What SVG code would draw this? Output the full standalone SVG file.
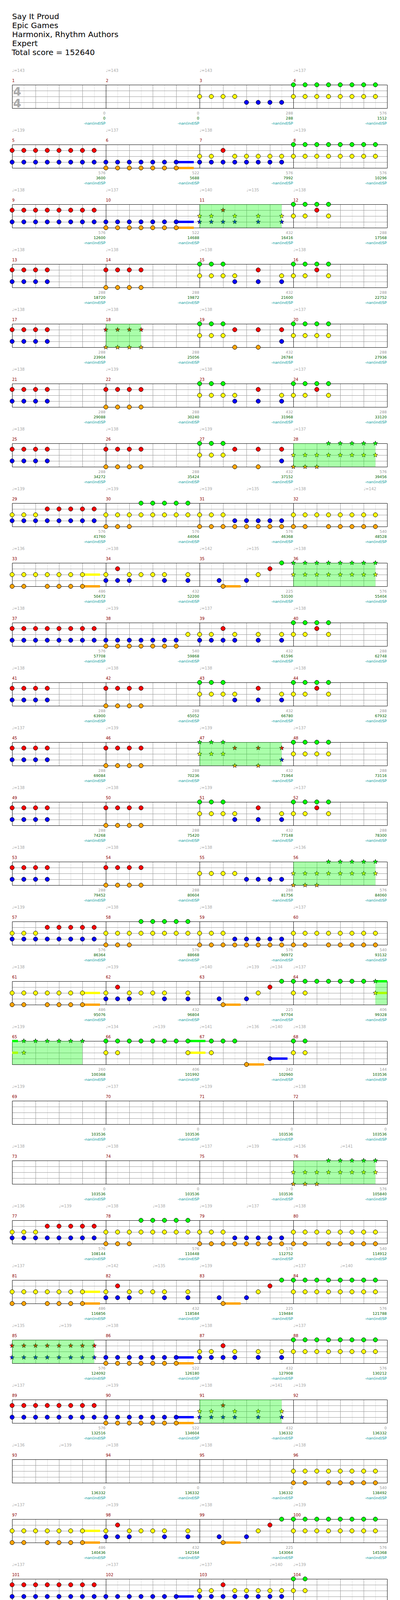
<svg xmlns="http://www.w3.org/2000/svg" width="1024" height="4195" viewBox="0 0 1024 4195">
<style>
text{font-family:"DejaVu Sans","Noto Sans",sans-serif}
.h{font-size:20px;fill:#000}
.t{font-size:10px;fill:#aaa}
.m{font-size:10px;fill:#8b0000}
.c,.s,.n{font-size:9.5px;text-anchor:end}
.c{fill:#999}.s{fill:#006400}.n{fill:#009999}
.ts{font-size:30px;font-weight:bold;fill:#aaa;text-anchor:middle}
.nt{stroke:#000;stroke-width:1}
.st{stroke:#000;stroke-width:.8}
.sp{fill:#0f0;fill-opacity:.333}
.lg{stroke:#ddd;fill:none}
.gy{stroke:#999;fill:none}
.bk{stroke:#000;fill:none}
</style>
<defs>
<g id="staff" transform="translate(.5 .5)">
<path class="lg" d="M61 0v60M121 0v60M181 0v60M241 0v60M301 0v60M361 0v60M421 0v60M481 0v60M541 0v60M601 0v60M661 0v60M721 0v60M781 0v60M841 0v60M901 0v60M961 0v60"/>
<path class="gy" d="M91 0v60M151 0v60M211 0v60M331 0v60M391 0v60M451 0v60M571 0v60M631 0v60M691 0v60M811 0v60M871 0v60M931 0v60M31 15H991M31 30H991M31 45H991"/>
<path class="bk" d="M31 0H991V60H31ZM271 0v60M511 0v60M751 0v60"/>
</g>
<circle id="g" class="nt" r="5.5" fill="#0f0"/>
<circle id="r" class="nt" cy="15" r="5.5" fill="#f00"/>
<circle id="y" class="nt" cy="30" r="5.5" fill="#ff0"/>
<circle id="b" class="nt" cy="45" r="5.5" fill="#00f"/>
<circle id="o" class="nt" cy="60" r="5.5" fill="#ffa500"/>
<polygon id="G" class="st" fill="#0f0" points="0,-6.2 1.5,-2 5.9,-1.9 2.4,0.8 3.6,5 0,2.5 -3.6,5 -2.4,0.8 -5.9,-1.9 -1.5,-2"/>
<polygon id="R" class="st" fill="#f00" transform="translate(0 15)" points="0,-6.2 1.5,-2 5.9,-1.9 2.4,0.8 3.6,5 0,2.5 -3.6,5 -2.4,0.8 -5.9,-1.9 -1.5,-2"/>
<polygon id="Y" class="st" fill="#ff0" transform="translate(0 30)" points="0,-6.2 1.5,-2 5.9,-1.9 2.4,0.8 3.6,5 0,2.5 -3.6,5 -2.4,0.8 -5.9,-1.9 -1.5,-2"/>
<polygon id="B" class="st" fill="#00f" transform="translate(0 45)" points="0,-6.2 1.5,-2 5.9,-1.9 2.4,0.8 3.6,5 0,2.5 -3.6,5 -2.4,0.8 -5.9,-1.9 -1.5,-2"/>
<polygon id="O" class="st" fill="#ffa500" transform="translate(0 60)" points="0,-6.2 1.5,-2 5.9,-1.9 2.4,0.8 3.6,5 0,2.5 -3.6,5 -2.4,0.8 -5.9,-1.9 -1.5,-2"/>
<g id="g4"><use href="#g"/><use href="#g" x="30"/><use href="#g" x="60"/><use href="#g" x="90"/></g>
<g id="r4"><use href="#r"/><use href="#r" x="30"/><use href="#r" x="60"/><use href="#r" x="90"/></g>
<g id="y4"><use href="#y"/><use href="#y" x="30"/><use href="#y" x="60"/><use href="#y" x="90"/></g>
<g id="b4"><use href="#b"/><use href="#b" x="30"/><use href="#b" x="60"/><use href="#b" x="90"/></g>
<g id="o4"><use href="#o"/><use href="#o" x="30"/><use href="#o" x="60"/><use href="#o" x="90"/></g>
<g id="g8"><use href="#g4"/><use href="#g4" x="120"/></g>
<g id="r8"><use href="#r4"/><use href="#r4" x="120"/></g>
<g id="y8"><use href="#y4"/><use href="#y4" x="120"/></g>
<g id="b8"><use href="#b4"/><use href="#b4" x="120"/></g>
<g id="o8"><use href="#o4"/><use href="#o4" x="120"/></g>
<g id="g7"><use href="#g4"/><use href="#g" x="120"/><use href="#g" x="150"/><use href="#g" x="180"/></g>
<g id="y7"><use href="#y4"/><use href="#y" x="120"/><use href="#y" x="150"/><use href="#y" x="180"/></g>
<g id="b7"><use href="#b4"/><use href="#b" x="120"/><use href="#b" x="150"/><use href="#b" x="180"/></g>
<g id="o7"><use href="#o4"/><use href="#o" x="120"/><use href="#o" x="150"/><use href="#o" x="180"/></g>
<g id="G4"><use href="#G"/><use href="#G" x="30"/><use href="#G" x="60"/><use href="#G" x="90"/></g>
<g id="R4"><use href="#R"/><use href="#R" x="30"/><use href="#R" x="60"/><use href="#R" x="90"/></g>
<g id="Y4"><use href="#Y"/><use href="#Y" x="30"/><use href="#Y" x="60"/><use href="#Y" x="90"/></g>
<g id="B4"><use href="#B"/><use href="#B" x="30"/><use href="#B" x="60"/><use href="#B" x="90"/></g>
<g id="O4"><use href="#O"/><use href="#O" x="30"/><use href="#O" x="60"/><use href="#O" x="90"/></g>
<g id="G8"><use href="#G4"/><use href="#G4" x="120"/></g>
<g id="R8"><use href="#R4"/><use href="#R4" x="120"/></g>
<g id="Y8"><use href="#Y4"/><use href="#Y4" x="120"/></g>
<g id="B8"><use href="#B4"/><use href="#B4" x="120"/></g>
<g id="pA"><use href="#y4"/><use href="#b4" x="120"/></g>
<g id="pRB8"><use href="#r8"/><use href="#b8"/></g>
<g id="pBO"><rect x="180" y="42" width="45" height="6" fill="#00f"/><rect x="180" y="57" width="45" height="6" fill="#ffa500"/><use href="#b7"/><use href="#o7"/></g>
<g id="p7"><use href="#y"/><use href="#y" x="30"/><use href="#y4" x="90"/><use href="#y" x="210"/><use href="#r" x="60"/><use href="#b8"/></g>
<g id="pGY8"><use href="#g8"/><use href="#y8"/></g>
<g id="p12"><use href="#g4"/><use href="#r" x="60"/><use href="#y"/><use href="#y" x="30"/><use href="#y" x="90"/></g>
<g id="pRB4"><use href="#r4"/><use href="#b4"/></g>
<g id="pRO4"><use href="#r4"/><use href="#o4"/></g>
<g id="p15"><use href="#g"/><use href="#g" x="30"/><use href="#g" x="60"/><use href="#y4"/><use href="#y" x="210"/><use href="#b" x="90"/><use href="#b" x="150"/><use href="#b" x="210"/><use href="#r" x="150"/></g>
<g id="p19"><use href="#g"/><use href="#g" x="30"/><use href="#g" x="60"/><use href="#y"/><use href="#y" x="30"/><use href="#y" x="60"/><use href="#r" x="90"/><use href="#r" x="150"/><use href="#r" x="210"/><use href="#o" x="90"/><use href="#o" x="150"/><use href="#b" x="210"/></g>
<g id="pGY4"><use href="#g4"/><use href="#y4"/></g>
<g id="p29"><use href="#y"/><use href="#y" x="30"/><use href="#y" x="60"/><use href="#r4" x="90"/><use href="#r" x="210"/><use href="#b8"/></g>
<g id="p30"><use href="#g4" x="90"/><use href="#g" x="210"/><use href="#y8"/><use href="#o"/><use href="#o" x="30"/><use href="#o" x="60"/></g>
<g id="p31"><use href="#y"/><use href="#y" x="30"/><use href="#y" x="60"/><use href="#b4" x="90"/><use href="#b" x="210"/><use href="#o8"/></g>
<g id="p32"><use href="#y8"/><use href="#o"/><use href="#o" x="30"/><use href="#o4" x="90"/><use href="#o" x="210"/></g>
<g id="p33"><rect x="180" y="27" width="45" height="6" fill="#ff0"/><rect x="180" y="57" width="45" height="6" fill="#ffa500"/><use href="#y7"/><use href="#o"/><use href="#o" x="30"/><use href="#o4" x="90"/></g>
<g id="p34"><use href="#r" x="30"/><use href="#y"/><use href="#y4" x="60"/><use href="#y" x="210"/><use href="#b"/><use href="#b" x="30"/><use href="#b" x="60"/><use href="#b" x="150"/><use href="#b" x="210"/></g>
<g id="p35"><rect x="60" y="57" width="45" height="6" fill="#ffa500"/><use href="#b" x="50"/><use href="#o" x="60"/><use href="#b" x="120"/><use href="#y" x="150"/><use href="#r" x="180"/><use href="#g" x="210"/></g>
<g id="p38"><use href="#b7"/><use href="#o7"/><use href="#y" x="210"/></g>
<g id="p39"><use href="#y"/><use href="#y" x="30"/><use href="#y" x="90"/><use href="#y" x="150"/><use href="#y" x="210"/><use href="#r" x="60"/><use href="#b"/><use href="#b" x="30"/><use href="#b" x="60"/><use href="#b" x="90"/><use href="#b" x="150"/><use href="#b" x="210"/></g>
<g id="s28"><use href="#G4" x="90"/><use href="#G" x="210"/><use href="#Y8"/><use href="#O"/><use href="#O" x="30"/><use href="#O" x="60"/><rect class="sp" width="210" height="60"/></g>
<g id="s36"><use href="#G8"/><use href="#Y8"/><rect class="sp" width="210" height="60"/></g>
<g id="s11"><use href="#R" x="60"/><use href="#Y"/><use href="#Y" x="30"/><use href="#Y" x="90"/><use href="#Y" x="150"/><use href="#Y" x="210"/><use href="#B"/><use href="#B" x="30"/><use href="#B" x="60"/><use href="#B" x="90"/><use href="#B" x="150"/><use href="#B" x="210"/><rect class="sp" width="210" height="60"/></g>
<g id="s18"><use href="#R4"/><use href="#O4"/><rect class="sp" width="90" height="60"/></g>
<g id="s47"><use href="#G"/><use href="#G" x="30"/><use href="#G" x="60"/><use href="#Y"/><use href="#Y" x="30"/><use href="#Y" x="60"/><use href="#R" x="90"/><use href="#R" x="150"/><use href="#R" x="210"/><use href="#O" x="90"/><use href="#O" x="150"/><use href="#B" x="210"/><rect class="sp" width="210" height="60"/></g>
<g id="s85"><use href="#R8"/><use href="#B8"/><rect class="sp" width="210" height="60"/></g>
<g id="p64"><rect x="210" y="-3" width="30" height="6" fill="#0f0"/><rect x="210" y="27" width="30" height="6" fill="#ff0"/><use href="#g7"/><use href="#y"/><use href="#y" x="30"/><use href="#G" x="210"/><use href="#Y" x="210"/><rect class="sp" x="210" width="30" height="60"/></g>
<g id="p65"><rect y="-3" width="15" height="6" fill="#0f0"/><rect y="27" width="15" height="6" fill="#ff0"/><use href="#G4" x="30"/><use href="#G" x="150"/><use href="#G" x="180"/><use href="#Y" x="30"/><rect class="sp" width="180" height="60"/></g>
<g id="p66"><rect x="210" y="-3" width="45" height="6" fill="#0f0"/><rect x="210" y="27" width="45" height="6" fill="#ff0"/><use href="#g8"/><use href="#y"/><use href="#y" x="30"/><use href="#y" x="210"/></g>
<g id="p67"><rect x="120" y="57" width="45" height="6" fill="#ffa500"/><rect x="180" y="42" width="45" height="6" fill="#00f"/><use href="#g" x="30"/><use href="#g" x="60"/><use href="#g" x="90"/><use href="#y" x="30"/><use href="#o" x="120"/><use href="#b" x="180"/></g>
<g id="p68"><use href="#g"/><use href="#g" x="30"/><use href="#y"/><use href="#y" x="30"/></g>
</defs>
<rect width="1024" height="4195" fill="#fff"/>
<g id="header">
<text class="h" x="31" y="49">Say It Proud</text>
<text class="h" x="31" y="72">Epic Games</text>
<text class="h" x="31" y="95">Harmonix, Rhythm Authors</text>
<text class="h" x="31" y="118">Expert</text>
<text class="h" x="30" y="141">Total score = 152640</text>
</g>

<g id="row1" transform="translate(0 217)">
<use href="#staff"/>
<text class="ts" x="44" y="28">4</text><text class="ts" x="44" y="58">4</text>
<use href="#pA" x="511"/><use href="#pGY8" x="751"/>
<text class="t" x="31" y="-33">♩=143</text><text class="t" x="271" y="-33">♩=143</text><text class="t" x="511" y="-33">♩=143</text><text class="t" x="751" y="-33">♩=137</text>
<text class="m" x="31" y="-7">1</text><text class="m" x="271" y="-7">2</text><text class="m" x="511" y="-7">3</text><text class="m" x="751" y="-7">4</text>
<text class="c" x="270" y="76">0</text><text class="s" x="270" y="89">0</text><text class="n" x="270" y="102">-nan(ind)SP</text>
<text class="c" x="510" y="76">0</text><text class="s" x="510" y="89">0</text><text class="n" x="510" y="102">-nan(ind)SP</text>
<text class="c" x="750" y="76">288</text><text class="s" x="750" y="89">288</text><text class="n" x="750" y="102">-nan(ind)SP</text>
<text class="c" x="990" y="76">576</text><text class="s" x="990" y="89">1512</text><text class="n" x="990" y="102">-nan(ind)SP</text>
</g>

<g id="row2" transform="translate(0 370)">
<use href="#staff"/>
<use href="#pRB8" x="31"/><use href="#pBO" x="271"/><use href="#p7" x="511"/><use href="#pGY8" x="751"/>
<text class="t" x="31" y="-33">♩=139</text><text class="t" x="271" y="-33">♩=137</text><text class="t" x="511" y="-33">♩=138</text><text class="t" x="751" y="-33">♩=139</text>
<text class="m" x="31" y="-7">5</text><text class="m" x="271" y="-7">6</text><text class="m" x="511" y="-7">7</text><text class="m" x="751" y="-7">8</text>
<text class="c" x="270" y="76">576</text><text class="s" x="270" y="89">3600</text><text class="n" x="270" y="102">-nan(ind)SP</text>
<text class="c" x="510" y="76">522</text><text class="s" x="510" y="89">5688</text><text class="n" x="510" y="102">-nan(ind)SP</text>
<text class="c" x="750" y="76">576</text><text class="s" x="750" y="89">7992</text><text class="n" x="750" y="102">-nan(ind)SP</text>
<text class="c" x="990" y="76">576</text><text class="s" x="990" y="89">10296</text><text class="n" x="990" y="102">-nan(ind)SP</text>
</g>

<g id="row3" transform="translate(0 523)">
<use href="#staff"/>
<use href="#pRB8" x="31"/><use href="#pBO" x="271"/><use href="#s11" x="511"/><use href="#p12" x="751"/>
<text class="t" x="31" y="-33">♩=138</text><text class="t" x="271" y="-33">♩=137</text><text class="t" x="511" y="-33">♩=140</text><text class="t" x="631" y="-33">♩=135</text><text class="t" x="751" y="-33">♩=138</text>
<text class="m" x="31" y="-7">9</text><text class="m" x="271" y="-7">10</text><text class="m" x="511" y="-7">11</text><text class="m" x="751" y="-7">12</text>
<text class="c" x="270" y="76">576</text><text class="s" x="270" y="89">12600</text><text class="n" x="270" y="102">-nan(ind)SP</text>
<text class="c" x="510" y="76">522</text><text class="s" x="510" y="89">14688</text><text class="n" x="510" y="102">-nan(ind)SP</text>
<text class="c" x="750" y="76">432</text><text class="s" x="750" y="89">16416</text><text class="n" x="750" y="102">-nan(ind)SP</text>
<text class="c" x="990" y="76">288</text><text class="s" x="990" y="89">17568</text><text class="n" x="990" y="102">-nan(ind)SP</text>
</g>

<g id="row4" transform="translate(0 676)">
<use href="#staff"/>
<use href="#pRB4" x="31"/><use href="#pRO4" x="271"/><use href="#p15" x="511"/><use href="#p12" x="751"/>
<text class="t" x="31" y="-33">♩=138</text><text class="t" x="271" y="-33">♩=138</text><text class="t" x="511" y="-33">♩=138</text><text class="t" x="751" y="-33">♩=138</text>
<text class="m" x="31" y="-7">13</text><text class="m" x="271" y="-7">14</text><text class="m" x="511" y="-7">15</text><text class="m" x="751" y="-7">16</text>
<text class="c" x="270" y="76">288</text><text class="s" x="270" y="89">18720</text><text class="n" x="270" y="102">-nan(ind)SP</text>
<text class="c" x="510" y="76">288</text><text class="s" x="510" y="89">19872</text><text class="n" x="510" y="102">-nan(ind)SP</text>
<text class="c" x="750" y="76">432</text><text class="s" x="750" y="89">21600</text><text class="n" x="750" y="102">-nan(ind)SP</text>
<text class="c" x="990" y="76">288</text><text class="s" x="990" y="89">22752</text><text class="n" x="990" y="102">-nan(ind)SP</text>
</g>

<g id="row5" transform="translate(0 829)">
<use href="#staff"/>
<use href="#pRB4" x="31"/><use href="#s18" x="271"/><use href="#p19" x="511"/><use href="#pGY4" x="751"/>
<text class="t" x="31" y="-33">♩=138</text><text class="t" x="271" y="-33">♩=138</text><text class="t" x="511" y="-33">♩=138</text><text class="t" x="751" y="-33">♩=137</text>
<text class="m" x="31" y="-7">17</text><text class="m" x="271" y="-7">18</text><text class="m" x="511" y="-7">19</text><text class="m" x="751" y="-7">20</text>
<text class="c" x="270" y="76">288</text><text class="s" x="270" y="89">23904</text><text class="n" x="270" y="102">-nan(ind)SP</text>
<text class="c" x="510" y="76">288</text><text class="s" x="510" y="89">25056</text><text class="n" x="510" y="102">-nan(ind)SP</text>
<text class="c" x="750" y="76">432</text><text class="s" x="750" y="89">26784</text><text class="n" x="750" y="102">-nan(ind)SP</text>
<text class="c" x="990" y="76">288</text><text class="s" x="990" y="89">27936</text><text class="n" x="990" y="102">-nan(ind)SP</text>
</g>

<g id="row6" transform="translate(0 982)">
<use href="#staff"/>
<use href="#pRB4" x="31"/><use href="#pRO4" x="271"/><use href="#p15" x="511"/><use href="#p12" x="751"/>
<text class="t" x="31" y="-33">♩=138</text><text class="t" x="271" y="-33">♩=139</text><text class="t" x="511" y="-33">♩=138</text><text class="t" x="751" y="-33">♩=137</text>
<text class="m" x="31" y="-7">21</text><text class="m" x="271" y="-7">22</text><text class="m" x="511" y="-7">23</text><text class="m" x="751" y="-7">24</text>
<text class="c" x="270" y="76">288</text><text class="s" x="270" y="89">29088</text><text class="n" x="270" y="102">-nan(ind)SP</text>
<text class="c" x="510" y="76">288</text><text class="s" x="510" y="89">30240</text><text class="n" x="510" y="102">-nan(ind)SP</text>
<text class="c" x="750" y="76">432</text><text class="s" x="750" y="89">31968</text><text class="n" x="750" y="102">-nan(ind)SP</text>
<text class="c" x="990" y="76">288</text><text class="s" x="990" y="89">33120</text><text class="n" x="990" y="102">-nan(ind)SP</text>
</g>

<g id="row7" transform="translate(0 1135)">
<use href="#staff"/>
<use href="#pRB4" x="31"/><use href="#pRO4" x="271"/><use href="#p19" x="511"/><use href="#s28" x="751"/>
<text class="t" x="31" y="-33">♩=138</text><text class="t" x="271" y="-33">♩=138</text><text class="t" x="511" y="-33">♩=139</text><text class="t" x="751" y="-33">♩=137</text>
<text class="m" x="31" y="-7">25</text><text class="m" x="271" y="-7">26</text><text class="m" x="511" y="-7">27</text><text class="m" x="751" y="-7">28</text>
<text class="c" x="270" y="76">288</text><text class="s" x="270" y="89">34272</text><text class="n" x="270" y="102">-nan(ind)SP</text>
<text class="c" x="510" y="76">288</text><text class="s" x="510" y="89">35424</text><text class="n" x="510" y="102">-nan(ind)SP</text>
<text class="c" x="750" y="76">432</text><text class="s" x="750" y="89">37152</text><text class="n" x="750" y="102">-nan(ind)SP</text>
<text class="c" x="990" y="76">576</text><text class="s" x="990" y="89">39456</text><text class="n" x="990" y="102">-nan(ind)SP</text>
</g>

<g id="row8" transform="translate(0 1288)">
<use href="#staff"/>
<use href="#p29" x="31"/><use href="#p30" x="271"/><use href="#p31" x="511"/><use href="#p32" x="751"/>
<text class="t" x="31" y="-33">♩=139</text><text class="t" x="271" y="-33">♩=139</text><text class="t" x="511" y="-33">♩=139</text><text class="t" x="631" y="-33">♩=135</text><text class="t" x="751" y="-33">♩=138</text><text class="t" x="931" y="-33">♩=142</text>
<text class="m" x="31" y="-7">29</text><text class="m" x="271" y="-7">30</text><text class="m" x="511" y="-7">31</text><text class="m" x="751" y="-7">32</text>
<text class="c" x="270" y="76">576</text><text class="s" x="270" y="89">41760</text><text class="n" x="270" y="102">-nan(ind)SP</text>
<text class="c" x="510" y="76">576</text><text class="s" x="510" y="89">44064</text><text class="n" x="510" y="102">-nan(ind)SP</text>
<text class="c" x="750" y="76">576</text><text class="s" x="750" y="89">46368</text><text class="n" x="750" y="102">-nan(ind)SP</text>
<text class="c" x="990" y="76">540</text><text class="s" x="990" y="89">48528</text><text class="n" x="990" y="102">-nan(ind)SP</text>
</g>

<g id="row9" transform="translate(0 1441)">
<use href="#staff"/>
<use href="#p33" x="31"/><use href="#p34" x="271"/><use href="#p35" x="511"/><use href="#s36" x="751"/>
<text class="t" x="31" y="-33">♩=136</text><text class="t" x="271" y="-33">♩=138</text><text class="t" x="511" y="-33">♩=142</text><text class="t" x="631" y="-33">♩=135</text><text class="t" x="751" y="-33">♩=138</text>
<text class="m" x="31" y="-7">33</text><text class="m" x="271" y="-7">34</text><text class="m" x="511" y="-7">35</text><text class="m" x="751" y="-7">36</text>
<text class="c" x="270" y="76">486</text><text class="s" x="270" y="89">50472</text><text class="n" x="270" y="102">-nan(ind)SP</text>
<text class="c" x="510" y="76">432</text><text class="s" x="510" y="89">52200</text><text class="n" x="510" y="102">-nan(ind)SP</text>
<text class="c" x="750" y="76">225</text><text class="s" x="750" y="89">53100</text><text class="n" x="750" y="102">-nan(ind)SP</text>
<text class="c" x="990" y="76">576</text><text class="s" x="990" y="89">55404</text><text class="n" x="990" y="102">-nan(ind)SP</text>
</g>

<g id="row10" transform="translate(0 1594)">
<use href="#staff"/>
<use href="#pRB8" x="31"/><use href="#p38" x="271"/><use href="#p39" x="511"/><use href="#p12" x="751"/>
<text class="t" x="31" y="-33">♩=138</text><text class="t" x="271" y="-33">♩=139</text><text class="t" x="511" y="-33">♩=137</text><text class="t" x="751" y="-33">♩=138</text>
<text class="m" x="31" y="-7">37</text><text class="m" x="271" y="-7">38</text><text class="m" x="511" y="-7">39</text><text class="m" x="751" y="-7">40</text>
<text class="c" x="270" y="76">576</text><text class="s" x="270" y="89">57708</text><text class="n" x="270" y="102">-nan(ind)SP</text>
<text class="c" x="510" y="76">540</text><text class="s" x="510" y="89">59868</text><text class="n" x="510" y="102">-nan(ind)SP</text>
<text class="c" x="750" y="76">432</text><text class="s" x="750" y="89">61596</text><text class="n" x="750" y="102">-nan(ind)SP</text>
<text class="c" x="990" y="76">288</text><text class="s" x="990" y="89">62748</text><text class="n" x="990" y="102">-nan(ind)SP</text>
</g>

<g id="row11" transform="translate(0 1747)">
<use href="#staff"/>
<use href="#pRB4" x="31"/><use href="#pRO4" x="271"/><use href="#p15" x="511"/><use href="#p12" x="751"/>
<text class="t" x="31" y="-33">♩=138</text><text class="t" x="271" y="-33">♩=138</text><text class="t" x="511" y="-33">♩=138</text><text class="t" x="751" y="-33">♩=138</text>
<text class="m" x="31" y="-7">41</text><text class="m" x="271" y="-7">42</text><text class="m" x="511" y="-7">43</text><text class="m" x="751" y="-7">44</text>
<text class="c" x="270" y="76">288</text><text class="s" x="270" y="89">63900</text><text class="n" x="270" y="102">-nan(ind)SP</text>
<text class="c" x="510" y="76">288</text><text class="s" x="510" y="89">65052</text><text class="n" x="510" y="102">-nan(ind)SP</text>
<text class="c" x="750" y="76">432</text><text class="s" x="750" y="89">66780</text><text class="n" x="750" y="102">-nan(ind)SP</text>
<text class="c" x="990" y="76">288</text><text class="s" x="990" y="89">67932</text><text class="n" x="990" y="102">-nan(ind)SP</text>
</g>

<g id="row12" transform="translate(0 1900)">
<use href="#staff"/>
<use href="#pRB4" x="31"/><use href="#pRO4" x="271"/><use href="#s47" x="511"/><use href="#pGY4" x="751"/>
<text class="t" x="31" y="-33">♩=137</text><text class="t" x="271" y="-33">♩=139</text><text class="t" x="511" y="-33">♩=139</text><text class="t" x="751" y="-33">♩=137</text>
<text class="m" x="31" y="-7">45</text><text class="m" x="271" y="-7">46</text><text class="m" x="511" y="-7">47</text><text class="m" x="751" y="-7">48</text>
<text class="c" x="270" y="76">288</text><text class="s" x="270" y="89">69084</text><text class="n" x="270" y="102">-nan(ind)SP</text>
<text class="c" x="510" y="76">288</text><text class="s" x="510" y="89">70236</text><text class="n" x="510" y="102">-nan(ind)SP</text>
<text class="c" x="750" y="76">432</text><text class="s" x="750" y="89">71964</text><text class="n" x="750" y="102">-nan(ind)SP</text>
<text class="c" x="990" y="76">288</text><text class="s" x="990" y="89">73116</text><text class="n" x="990" y="102">-nan(ind)SP</text>
</g>

<g id="row13" transform="translate(0 2053)">
<use href="#staff"/>
<use href="#pRB4" x="31"/><use href="#pRO4" x="271"/><use href="#p15" x="511"/><use href="#p12" x="751"/>
<text class="t" x="31" y="-33">♩=138</text><text class="t" x="271" y="-33">♩=138</text><text class="t" x="511" y="-33">♩=139</text><text class="t" x="751" y="-33">♩=137</text>
<text class="m" x="31" y="-7">49</text><text class="m" x="271" y="-7">50</text><text class="m" x="511" y="-7">51</text><text class="m" x="751" y="-7">52</text>
<text class="c" x="270" y="76">288</text><text class="s" x="270" y="89">74268</text><text class="n" x="270" y="102">-nan(ind)SP</text>
<text class="c" x="510" y="76">288</text><text class="s" x="510" y="89">75420</text><text class="n" x="510" y="102">-nan(ind)SP</text>
<text class="c" x="750" y="76">432</text><text class="s" x="750" y="89">77148</text><text class="n" x="750" y="102">-nan(ind)SP</text>
<text class="c" x="990" y="76">288</text><text class="s" x="990" y="89">78300</text><text class="n" x="990" y="102">-nan(ind)SP</text>
</g>

<g id="row14" transform="translate(0 2206)">
<use href="#staff"/>
<use href="#pRB4" x="31"/><use href="#pRO4" x="271"/><use href="#pA" x="511"/><use href="#s28" x="751"/>
<text class="t" x="31" y="-33">♩=138</text><text class="t" x="271" y="-33">♩=138</text><text class="t" x="511" y="-33">♩=138</text><text class="t" x="751" y="-33">♩=136</text>
<text class="m" x="31" y="-7">53</text><text class="m" x="271" y="-7">54</text><text class="m" x="511" y="-7">55</text><text class="m" x="751" y="-7">56</text>
<text class="c" x="270" y="76">288</text><text class="s" x="270" y="89">79452</text><text class="n" x="270" y="102">-nan(ind)SP</text>
<text class="c" x="510" y="76">288</text><text class="s" x="510" y="89">80604</text><text class="n" x="510" y="102">-nan(ind)SP</text>
<text class="c" x="750" y="76">288</text><text class="s" x="750" y="89">81756</text><text class="n" x="750" y="102">-nan(ind)SP</text>
<text class="c" x="990" y="76">576</text><text class="s" x="990" y="89">84060</text><text class="n" x="990" y="102">-nan(ind)SP</text>
</g>

<g id="row15" transform="translate(0 2359)">
<use href="#staff"/>
<use href="#p29" x="31"/><use href="#p30" x="271"/><use href="#p31" x="511"/><use href="#p32" x="751"/>
<text class="t" x="31" y="-33">♩=139</text><text class="t" x="271" y="-33">♩=138</text><text class="t" x="511" y="-33">♩=138</text><text class="t" x="751" y="-33">♩=137</text>
<text class="m" x="31" y="-7">57</text><text class="m" x="271" y="-7">58</text><text class="m" x="511" y="-7">59</text><text class="m" x="751" y="-7">60</text>
<text class="c" x="270" y="76">576</text><text class="s" x="270" y="89">86364</text><text class="n" x="270" y="102">-nan(ind)SP</text>
<text class="c" x="510" y="76">576</text><text class="s" x="510" y="89">88668</text><text class="n" x="510" y="102">-nan(ind)SP</text>
<text class="c" x="750" y="76">576</text><text class="s" x="750" y="89">90972</text><text class="n" x="750" y="102">-nan(ind)SP</text>
<text class="c" x="990" y="76">540</text><text class="s" x="990" y="89">93132</text><text class="n" x="990" y="102">-nan(ind)SP</text>
</g>

<g id="row16" transform="translate(0 2512)">
<use href="#staff"/>
<use href="#p33" x="31"/><use href="#p34" x="271"/><use href="#p35" x="511"/><use href="#p64" x="751"/>
<text class="t" x="31" y="-33">♩=138</text><text class="t" x="271" y="-33">♩=139</text><text class="t" x="511" y="-33">♩=140</text><text class="t" x="631" y="-33">♩=139</text><text class="t" x="691" y="-33">♩=134</text><text class="t" x="751" y="-33">♩=137</text>
<text class="m" x="31" y="-7">61</text><text class="m" x="271" y="-7">62</text><text class="m" x="511" y="-7">63</text><text class="m" x="751" y="-7">64</text>
<text class="c" x="270" y="76">486</text><text class="s" x="270" y="89">95076</text><text class="n" x="270" y="102">-nan(ind)SP</text>
<text class="c" x="510" y="76">432</text><text class="s" x="510" y="89">96804</text><text class="n" x="510" y="102">-nan(ind)SP</text>
<text class="c" x="750" y="76">225</text><text class="s" x="750" y="89">97704</text><text class="n" x="750" y="102">-nan(ind)SP</text>
<text class="c" x="990" y="76">406</text><text class="s" x="990" y="89">99328</text><text class="n" x="990" y="102">-nan(ind)SP</text>
</g>

<g id="row17" transform="translate(0 2665)">
<use href="#staff"/>
<use href="#p65" x="31"/><use href="#p66" x="271"/><use href="#p67" x="511"/><use href="#p68" x="751"/>
<text class="t" x="31" y="-33">♩=139</text><text class="t" x="271" y="-33">♩=134</text><text class="t" x="391" y="-33">♩=139</text><text class="t" x="511" y="-33">♩=141</text><text class="t" x="631" y="-33">♩=136</text><text class="t" x="691" y="-33">♩=140</text><text class="t" x="751" y="-33">♩=138</text>
<text class="m" x="31" y="-7">65</text><text class="m" x="271" y="-7">66</text><text class="m" x="511" y="-7">67</text><text class="m" x="751" y="-7">68</text>
<text class="c" x="270" y="76">260</text><text class="s" x="270" y="89">100368</text><text class="n" x="270" y="102">-nan(ind)SP</text>
<text class="c" x="510" y="76">406</text><text class="s" x="510" y="89">101992</text><text class="n" x="510" y="102">-nan(ind)SP</text>
<text class="c" x="750" y="76">242</text><text class="s" x="750" y="89">102960</text><text class="n" x="750" y="102">-nan(ind)SP</text>
<text class="c" x="990" y="76">144</text><text class="s" x="990" y="89">103536</text><text class="n" x="990" y="102">-nan(ind)SP</text>
</g>

<g id="row18" transform="translate(0 2818)">
<use href="#staff"/>
<text class="t" x="31" y="-33">♩=139</text><text class="t" x="271" y="-33">♩=137</text><text class="t" x="511" y="-33">♩=139</text><text class="t" x="751" y="-33">♩=138</text>
<text class="m" x="31" y="-7">69</text><text class="m" x="271" y="-7">70</text><text class="m" x="511" y="-7">71</text><text class="m" x="751" y="-7">72</text>
<text class="c" x="270" y="76">0</text><text class="s" x="270" y="89">103536</text><text class="n" x="270" y="102">-nan(ind)SP</text>
<text class="c" x="510" y="76">0</text><text class="s" x="510" y="89">103536</text><text class="n" x="510" y="102">-nan(ind)SP</text>
<text class="c" x="750" y="76">0</text><text class="s" x="750" y="89">103536</text><text class="n" x="750" y="102">-nan(ind)SP</text>
<text class="c" x="990" y="76">0</text><text class="s" x="990" y="89">103536</text><text class="n" x="990" y="102">-nan(ind)SP</text>
</g>

<g id="row19" transform="translate(0 2971)">
<use href="#staff"/>
<use href="#s28" x="751"/>
<text class="t" x="31" y="-33">♩=138</text><text class="t" x="271" y="-33">♩=138</text><text class="t" x="511" y="-33">♩=137</text><text class="t" x="631" y="-33">♩=139</text><text class="t" x="751" y="-33">♩=136</text><text class="t" x="871" y="-33">♩=141</text>
<text class="m" x="31" y="-7">73</text><text class="m" x="271" y="-7">74</text><text class="m" x="511" y="-7">75</text><text class="m" x="751" y="-7">76</text>
<text class="c" x="270" y="76">0</text><text class="s" x="270" y="89">103536</text><text class="n" x="270" y="102">-nan(ind)SP</text>
<text class="c" x="510" y="76">0</text><text class="s" x="510" y="89">103536</text><text class="n" x="510" y="102">-nan(ind)SP</text>
<text class="c" x="750" y="76">0</text><text class="s" x="750" y="89">103536</text><text class="n" x="750" y="102">-nan(ind)SP</text>
<text class="c" x="990" y="76">576</text><text class="s" x="990" y="89">105840</text><text class="n" x="990" y="102">-nan(ind)SP</text>
</g>

<g id="row20" transform="translate(0 3124)">
<use href="#staff"/>
<use href="#p29" x="31"/><use href="#p30" x="271"/><use href="#p31" x="511"/><use href="#p32" x="751"/>
<text class="t" x="31" y="-33">♩=136</text><text class="t" x="151" y="-33">♩=139</text><text class="t" x="271" y="-33">♩=138</text><text class="t" x="391" y="-33">♩=138</text><text class="t" x="511" y="-33">♩=139</text><text class="t" x="631" y="-33">♩=137</text><text class="t" x="751" y="-33">♩=138</text>
<text class="m" x="31" y="-7">77</text><text class="m" x="271" y="-7">78</text><text class="m" x="511" y="-7">79</text><text class="m" x="751" y="-7">80</text>
<text class="c" x="270" y="76">576</text><text class="s" x="270" y="89">108144</text><text class="n" x="270" y="102">-nan(ind)SP</text>
<text class="c" x="510" y="76">576</text><text class="s" x="510" y="89">110448</text><text class="n" x="510" y="102">-nan(ind)SP</text>
<text class="c" x="750" y="76">576</text><text class="s" x="750" y="89">112752</text><text class="n" x="750" y="102">-nan(ind)SP</text>
<text class="c" x="990" y="76">540</text><text class="s" x="990" y="89">114912</text><text class="n" x="990" y="102">-nan(ind)SP</text>
</g>

<g id="row21" transform="translate(0 3277)">
<use href="#staff"/>
<use href="#p33" x="31"/><use href="#p34" x="271"/><use href="#p35" x="511"/><use href="#pGY8" x="751"/>
<text class="t" x="31" y="-33">♩=137</text><text class="t" x="271" y="-33">♩=142</text><text class="t" x="391" y="-33">♩=135</text><text class="t" x="511" y="-33">♩=139</text><text class="t" x="751" y="-33">♩=137</text><text class="t" x="871" y="-33">♩=140</text>
<text class="m" x="31" y="-7">81</text><text class="m" x="271" y="-7">82</text><text class="m" x="511" y="-7">83</text><text class="m" x="751" y="-7">84</text>
<text class="c" x="270" y="76">486</text><text class="s" x="270" y="89">116856</text><text class="n" x="270" y="102">-nan(ind)SP</text>
<text class="c" x="510" y="76">432</text><text class="s" x="510" y="89">118584</text><text class="n" x="510" y="102">-nan(ind)SP</text>
<text class="c" x="750" y="76">225</text><text class="s" x="750" y="89">119484</text><text class="n" x="750" y="102">-nan(ind)SP</text>
<text class="c" x="990" y="76">576</text><text class="s" x="990" y="89">121788</text><text class="n" x="990" y="102">-nan(ind)SP</text>
</g>

<g id="row22" transform="translate(0 3430)">
<use href="#staff"/>
<use href="#s85" x="31"/><use href="#pBO" x="271"/><use href="#p39" x="511"/><use href="#pGY8" x="751"/>
<text class="t" x="31" y="-33">♩=135</text><text class="t" x="151" y="-33">♩=139</text><text class="t" x="271" y="-33">♩=138</text><text class="t" x="511" y="-33">♩=138</text><text class="t" x="751" y="-33">♩=137</text>
<text class="m" x="31" y="-7">85</text><text class="m" x="271" y="-7">86</text><text class="m" x="511" y="-7">87</text><text class="m" x="751" y="-7">88</text>
<text class="c" x="270" y="76">576</text><text class="s" x="270" y="89">124092</text><text class="n" x="270" y="102">-nan(ind)SP</text>
<text class="c" x="510" y="76">522</text><text class="s" x="510" y="89">126180</text><text class="n" x="510" y="102">-nan(ind)SP</text>
<text class="c" x="750" y="76">432</text><text class="s" x="750" y="89">127908</text><text class="n" x="750" y="102">-nan(ind)SP</text>
<text class="c" x="990" y="76">576</text><text class="s" x="990" y="89">130212</text><text class="n" x="990" y="102">-nan(ind)SP</text>
</g>

<g id="row23" transform="translate(0 3583)">
<use href="#staff"/>
<use href="#pRB8" x="31"/><use href="#pBO" x="271"/><use href="#s11" x="511"/>
<text class="t" x="31" y="-33">♩=137</text><text class="t" x="271" y="-33">♩=139</text><text class="t" x="511" y="-33">♩=138</text><text class="t" x="691" y="-33">♩=141</text><text class="t" x="751" y="-33">♩=139</text>
<text class="m" x="31" y="-7">89</text><text class="m" x="271" y="-7">90</text><text class="m" x="511" y="-7">91</text><text class="m" x="751" y="-7">92</text>
<text class="c" x="270" y="76">576</text><text class="s" x="270" y="89">132516</text><text class="n" x="270" y="102">-nan(ind)SP</text>
<text class="c" x="510" y="76">522</text><text class="s" x="510" y="89">134604</text><text class="n" x="510" y="102">-nan(ind)SP</text>
<text class="c" x="750" y="76">432</text><text class="s" x="750" y="89">136332</text><text class="n" x="750" y="102">-nan(ind)SP</text>
<text class="c" x="990" y="76">0</text><text class="s" x="990" y="89">136332</text><text class="n" x="990" y="102">-nan(ind)SP</text>
</g>

<g id="row24" transform="translate(0 3736)">
<use href="#staff"/>
<use href="#p32" x="751"/>
<text class="t" x="31" y="-33">♩=136</text><text class="t" x="151" y="-33">♩=139</text><text class="t" x="271" y="-33">♩=138</text><text class="t" x="511" y="-33">♩=138</text><text class="t" x="751" y="-33">♩=138</text>
<text class="m" x="31" y="-7">93</text><text class="m" x="271" y="-7">94</text><text class="m" x="511" y="-7">95</text><text class="m" x="751" y="-7">96</text>
<text class="c" x="270" y="76">0</text><text class="s" x="270" y="89">136332</text><text class="n" x="270" y="102">-nan(ind)SP</text>
<text class="c" x="510" y="76">0</text><text class="s" x="510" y="89">136332</text><text class="n" x="510" y="102">-nan(ind)SP</text>
<text class="c" x="750" y="76">0</text><text class="s" x="750" y="89">136332</text><text class="n" x="750" y="102">-nan(ind)SP</text>
<text class="c" x="990" y="76">540</text><text class="s" x="990" y="89">138492</text><text class="n" x="990" y="102">-nan(ind)SP</text>
</g>

<g id="row25" transform="translate(0 3889)">
<use href="#staff"/>
<use href="#p33" x="31"/><use href="#p34" x="271"/><use href="#p35" x="511"/><use href="#pGY8" x="751"/>
<text class="t" x="31" y="-33">♩=137</text><text class="t" x="271" y="-33">♩=139</text><text class="t" x="511" y="-33">♩=138</text><text class="t" x="751" y="-33">♩=139</text>
<text class="m" x="31" y="-7">97</text><text class="m" x="271" y="-7">98</text><text class="m" x="511" y="-7">99</text><text class="m" x="751" y="-7">100</text>
<text class="c" x="270" y="76">486</text><text class="s" x="270" y="89">140436</text><text class="n" x="270" y="102">-nan(ind)SP</text>
<text class="c" x="510" y="76">432</text><text class="s" x="510" y="89">142164</text><text class="n" x="510" y="102">-nan(ind)SP</text>
<text class="c" x="750" y="76">225</text><text class="s" x="750" y="89">143064</text><text class="n" x="750" y="102">-nan(ind)SP</text>
<text class="c" x="990" y="76">576</text><text class="s" x="990" y="89">145368</text><text class="n" x="990" y="102">-nan(ind)SP</text>
</g>

<g id="row26" transform="translate(0 4042)">
<use href="#staff"/>
<use href="#pRB8" x="31"/><use href="#pBO" x="271"/><use href="#p7" x="511"/><use href="#p68" x="751"/>
<text class="t" x="31" y="-33">♩=137</text><text class="t" x="271" y="-33">♩=137</text><text class="t" x="511" y="-33">♩=137</text><text class="t" x="691" y="-33">♩=140</text><text class="t" x="751" y="-33">♩=139</text>
<text class="m" x="31" y="-7">101</text><text class="m" x="271" y="-7">102</text><text class="m" x="511" y="-7">103</text><text class="m" x="751" y="-7">104</text>
<text class="c" x="270" y="76">576</text><text class="s" x="270" y="89">147672</text><text class="n" x="270" y="102">-nan(ind)SP</text>
<text class="c" x="510" y="76">522</text><text class="s" x="510" y="89">149760</text><text class="n" x="510" y="102">-nan(ind)SP</text>
<text class="c" x="750" y="76">576</text><text class="s" x="750" y="89">152064</text><text class="n" x="750" y="102">-nan(ind)SP</text>
<text class="c" x="990" y="76">144</text><text class="s" x="990" y="89">152640</text><text class="n" x="990" y="102">-nan(ind)SP</text>
</g>
</svg>
